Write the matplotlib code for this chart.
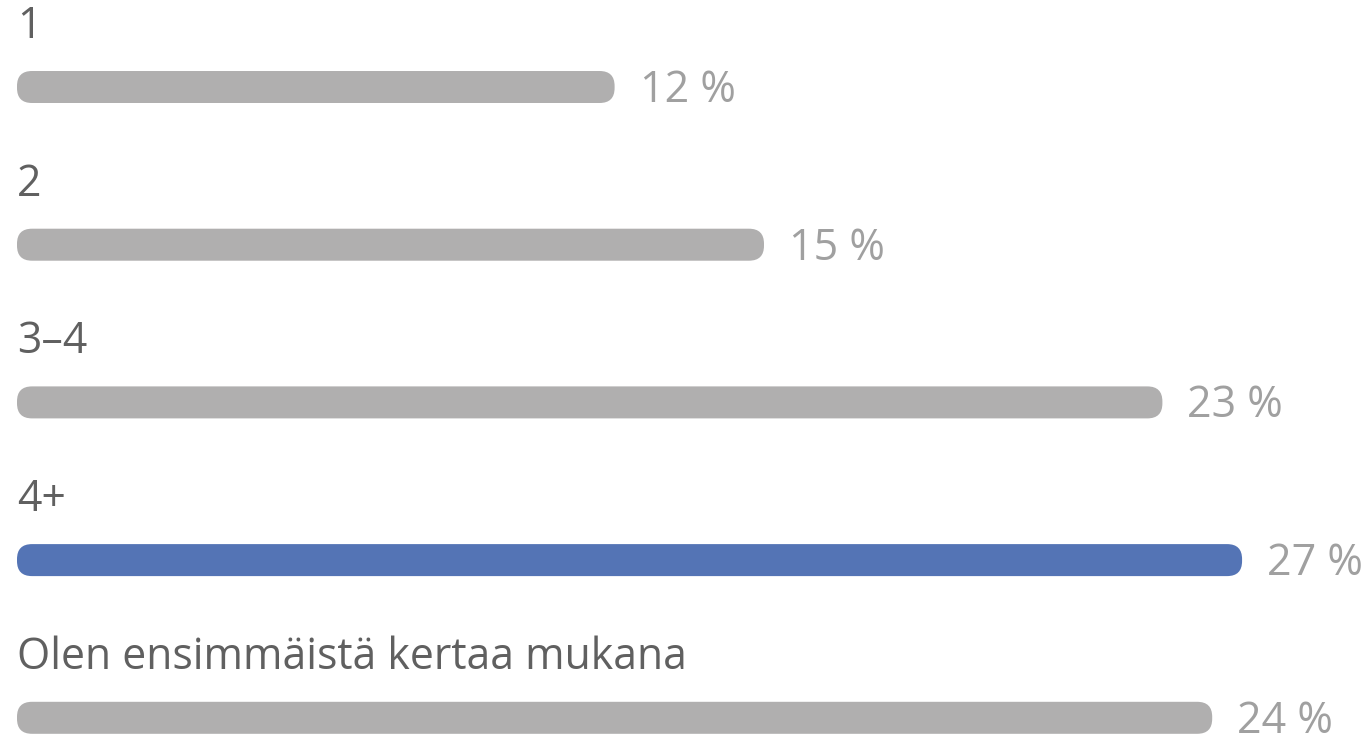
import matplotlib.pyplot as plt
from matplotlib.patches import FancyBboxPatch

# Data
categories = ["1", "2", "3–4", "4+", "Olen ensimmäistä kertaa mukana"]
bar_lengths = [12.0, 15.0, 23.0, 24.6, 24.0]   # bar lengths as drawn (percent scale)
value_labels = ["12 %", "15 %", "23 %", "27 %", "24 %"]
highlight = "4+"

gray = "#b0afaf"
blue = "#5474b5"

plt.rcParams['font.family'] = ['Open Sans', 'DejaVu Sans']

fig = plt.figure(figsize=(13.68, 7.37), dpi=100)
ax = fig.add_axes([0, 0, 1, 1])
ax.axis('off')

# scales: px per x unit and px per row
px_x = 49.8
px_row = 157.7
ax.set_xlim(-17 / px_x, (1368 - 17) / px_x)
ax.set_ylim((737 - 87) / px_row, -87 / px_row)

bar_h = 32 / px_row
radius_px = 15
aspect = px_x / px_row

for i, (cat, length, lab) in enumerate(zip(categories, bar_lengths, value_labels)):
    color = blue if cat == highlight else gray
    box = FancyBboxPatch((0, i - bar_h / 2), length, bar_h,
                         boxstyle="round,pad=0,rounding_size=%f" % (radius_px / px_x),
                         mutation_aspect=aspect, facecolor=color, edgecolor='none')
    ax.add_patch(box)
    # category label above the bar
    ax.text(0, i - 49 / px_row, cat, fontsize=30.8, color="#606060",
            ha='left', va='baseline')
    # value label after the bar
    ax.text(length + 25 / px_x, i + 15 / px_row, lab, fontsize=31, color="#a0a0a0",
            ha='left', va='baseline')

fig.savefig("out.png", dpi=100)
